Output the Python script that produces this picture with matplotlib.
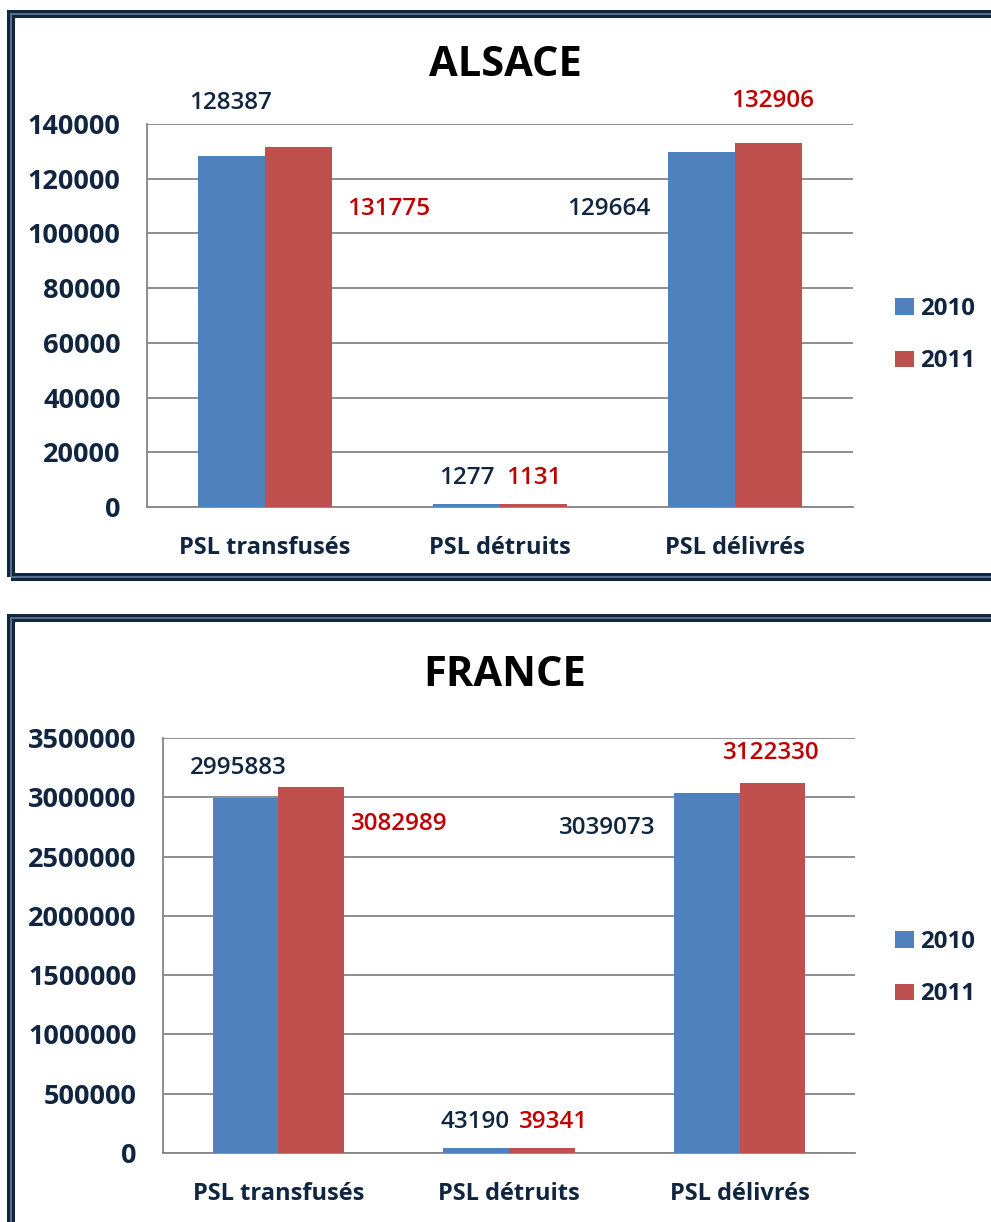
'''
PSL transfusés / détruits / délivrés, Alsace vs France, 2010-2011
'''

import numpy as np
import matplotlib
matplotlib.use( 'Agg' )
import matplotlib.pyplot as plt
from matplotlib.patches import Rectangle

# data
categories = [ 'PSL transfusés', 'PSL détruits', 'PSL délivrés' ]
years      = [ '2010', '2011' ]
alsace_2010 = [ 128387, 1277, 129664 ]
alsace_2011 = [ 131775, 1131, 132906 ]
france_2010 = [ 2995883, 43190, 3039073 ]
france_2011 = [ 3082989, 39341, 3122330 ]
alsace_ticks = list( range( 0, 140001, 20000 ) )
france_ticks = list( range( 0, 3500001, 500000 ) )

# label offsets from the top of each bar, in pixels (2010 series, 2011 series)
alsace_offs = [ [ ( -1, 53 ), ( 0, 26 ), ( -93, -57 ) ],
                [ ( 90, -62 ), ( 0, 26 ), ( 4, 42 ) ] ]
france_offs = [ [ ( -7, 30 ), ( -1, 26 ), ( -100, -35 ) ],
                [ ( 88, -37 ), ( 12, 26 ), ( -1, 30 ) ] ]

W, H   = 991, 1222
NAVY   = '#10253F'
RED    = '#C00000'
BLUE_B = '#4F81BD'
RED_B  = '#C0504D'
GRID   = '#868686'
FONT   = 'Open Sans'

plt.rcParams[ 'font.family' ] = [ FONT, 'DejaVu Sans' ]

def fx( px ): return px / W
def fy( py ): return 1 - py / H

def frame( fig, x0, y0, x1, y1 ):
    for lw, col in ( ( 8, NAVY ), ( 2, '#5B6E88' ) ):
        r = Rectangle( ( fx( x0 ), fy( y1 ) ), fx( x1 ) - fx( x0 ), fy( y0 ) - fy( y1 ),
                       transform = fig.transFigure, fill = False, edgecolor = col,
                       linewidth = lw * 0.72, zorder = 0 )
        fig.add_artist( r )

def panel( fig, rect, title, title_y, v10, v11, ticks, offs, leg_y ):
    ax = fig.add_axes( rect )
    x  = np.arange( len( categories ) )
    w  = 0.285
    b1 = ax.bar( x - w / 2, v10, w, color = BLUE_B, zorder = 3, label = years[ 0 ] )
    b2 = ax.bar( x + w / 2, v11, w, color = RED_B,  zorder = 3, label = years[ 1 ] )
    ax.set_xlim( -0.5, 2.5 )
    ax.set_ylim( 0, ticks[ -1 ] )
    ax.set_yticks( ticks )
    ax.set_yticklabels( [ str( t ) for t in ticks ] )
    ax.set_xticks( x )
    ax.set_xticklabels( categories )
    ax.tick_params( axis = 'y', length = 0, pad = 19, labelsize = 19.5, labelcolor = NAVY )
    ax.tick_params( axis = 'x', length = 0, pad = 21, labelsize = 17, labelcolor = NAVY )
    for lab in ax.get_xticklabels() + ax.get_yticklabels():
        lab.set_fontweight( 'bold' )
    ax.yaxis.grid( True, color = GRID, linewidth = 1.3, zorder = 0 )
    ax.set_axisbelow( True )
    for s in ( 'top', 'right' ):
        ax.spines[ s ].set_visible( False )
    for s in ( 'left', 'bottom' ):
        ax.spines[ s ].set_color( GRID )
        ax.spines[ s ].set_linewidth( 1.3 )

    for series, bars, col in ( ( 0, b1, NAVY ), ( 1, b2, RED ) ):
        vals = v10 if series == 0 else v11
        for i, bar in enumerate( bars ):
            ax.annotate( str( vals[ i ] ),
                         ( bar.get_x() + bar.get_width() / 2, bar.get_height() ),
                         xytext = offs[ series ][ i ], textcoords = 'offset pixels',
                         ha = 'center', va = 'center', fontsize = 17.5, color = col,
                         fontweight = 'semibold', annotation_clip = False )

    fig.text( fx( 505 ), fy( title_y ), title, ha = 'center', va = 'center',
              fontsize = 30, fontweight = 'bold', color = 'black' )

    ax.legend( handles = [ b1, b2 ], loc = 'center left',
               bbox_to_anchor = ( fx( 895 ), fy( leg_y ) ), bbox_transform = fig.transFigure,
               frameon = False, borderpad = 0, borderaxespad = 0,
               handlelength = 0.8, handleheight = 0.7, handletextpad = 0.25,
               labelspacing = 1.2, prop = { 'size': 17.3, 'weight': 'bold' },
               labelcolor = NAVY )
    return ax

if __name__ == '__main__':
    fig = plt.figure( figsize = ( W / 100, H / 100 ), dpi = 100 )
    fig.patch.set_facecolor( 'white' )

    frame( fig, 11, 14, 1010, 577 )
    frame( fig, 11, 618.5, 1010, 1240 )

    panel( fig, [ fx( 147 ), fy( 507 ), fx( 853 ) - fx( 147 ), fy( 124 ) - fy( 507 ) ],
           'ALSACE', 65, alsace_2010, alsace_2011, alsace_ticks, alsace_offs, 335 )
    panel( fig, [ fx( 163 ), fy( 1153 ), fx( 855 ) - fx( 163 ), fy( 738 ) - fy( 1153 ) ],
           'FRANCE', 675, france_2010, france_2011, france_ticks, france_offs, 968 )

    fig.savefig( 'out.png', dpi = 100 )
